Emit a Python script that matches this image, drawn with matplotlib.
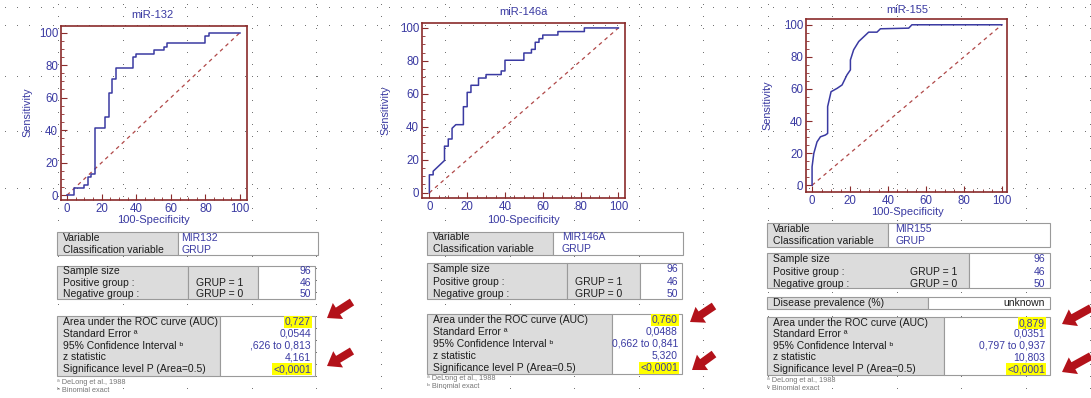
import numpy as np
import matplotlib
matplotlib.use('Agg')
import matplotlib.pyplot as plt
from matplotlib.patches import Rectangle, FancyArrow

plt.rcParams['font.family'] = ['Liberation Sans', 'DejaVu Sans']

W, H = 1091, 398

# ROC curves (100-Specificity, Sensitivity)
fpr_132 = [0, 4, 4, 10, 10, 12, 12, 14, 14, 16, 16, 22, 22, 24, 24, 26, 26, 28, 28, 38, 38, 40, 40, 50, 50,
           56, 56, 58, 58, 80, 80, 82, 82, 100]
tpr_132 = [0, 0, 4.35, 4.35, 6.52, 6.52, 10.87, 10.87, 13.04, 13.04, 41.3, 41.3, 47.8, 47.8, 63.0, 63.0,
           71.7, 71.7, 78.3, 78.3, 84.8, 84.8, 87.0, 87.0, 89.1, 89.1, 91.3, 91.3, 93.5, 93.5, 97.8, 97.8, 100, 100]

fpr_146 = [0, 0, 2, 2, 8, 8, 10, 10, 12, 12, 14, 18, 18, 20, 20, 22, 22, 26, 26, 30, 30, 38, 38, 40, 40, 50,
           50, 54, 54, 56, 56, 58, 58, 60, 60, 68, 68, 82, 82, 100]
tpr_146 = [0, 10.87, 10.87, 13.04, 19.57, 28.26, 28.26, 32.6, 32.6, 39.1, 41.3, 41.3, 52.2, 52.2, 60.9, 60.9,
           65.2, 65.2, 69.6, 69.6, 71.7, 71.7, 73.9, 73.9, 80.4, 80.4, 84.8, 84.8, 87.0, 87.0, 91.3, 91.3, 93.5,
           93.5, 95.7, 95.7, 97.8, 97.8, 100, 100]

fpr_155 = [0, 0, 0.9, 2.6, 4.4, 7.0, 8.2, 8.2, 10.0, 13.2, 15.8, 18.4, 20.2, 20.2, 21.9, 24.6, 29.8, 34.2,
           36.0, 50.9, 52.6, 100]
tpr_155 = [0, 11.5, 19.8, 27.0, 30.2, 31.3, 32.3, 49.0, 58.3, 60.4, 62.5, 68.8, 71.9, 78.1, 84.4, 89.6, 95.4,
           95.4, 97.5, 97.9, 100, 100]

titles = ['miR-132', 'miR-146a', 'miR-155']
variables = ['MIR132', 'MIR146A', 'MIR155']
sample_size = ['96', '96', '96']
positive_n = ['46', '46', '46']
negative_n = ['50', '50', '50']
auc = ['0,727', '0,760', '0,879']
std_err = ['0,0544', '0,0488', '0,0351']
conf_int = [',626 to 0,813', '0,662 to 0,841', '0,797 to 0,937']
z_stat = ['4,161', '5,320', '10,803']
p_level = ['<0,0001', '<0,0001', '<0,0001']

curves = [(fpr_132, tpr_132), (fpr_146, tpr_146), (fpr_155, tpr_155)]

BLUE = '#3a3aa2'
FRAME = '#8a2b2b'
TXT = '#1c1c1c'
GRAY = '#dcdcdc'
EDGE = '#9a9a9a'
FS = 7.5

fig = plt.figure(figsize=(W / 100, H / 100), dpi=100)
bg = fig.add_axes([0, 0, 1, 1])
bg.set_xlim(0, W)
bg.set_ylim(H, 0)
bg.axis('off')

# faint dotted spreadsheet grid in the background
for gx in np.arange(58, W, 64.5):
    gy = np.arange(4, H, 12)
    bg.plot(np.full(len(gy), gx), gy, ls='none', marker='s', ms=0.6, mew=0, color='#666666', zorder=0)
for gy in [7, 25, 76, 131, 188]:
    gx = np.arange(5, W, 12)
    bg.plot(gx, np.full(len(gx), gy), ls='none', marker='s', ms=0.6, mew=0, color='#666666', zorder=0)


def px_axes(l, t, r, b):
    return fig.add_axes([l / W, 1 - b / H, (r - l) / W, (b - t) / H])


def cell(x0, y0, x1, y1, gray=True):
    bg.add_patch(Rectangle((x0, y0), x1 - x0, y1 - y0, facecolor=GRAY if gray else 'white',
                           edgecolor=EDGE, lw=0.8, zorder=2))


def label(x, y, s, **kw):
    kw.setdefault('color', TXT)
    kw.setdefault('fontsize', FS)
    bg.text(x, y, s, va='center', zorder=3, **kw)


def value(x, y, s, hl=False, color=BLUE):
    kw = {}
    if hl:
        kw['bbox'] = dict(facecolor='#ffff00', edgecolor='none', pad=0.6)
    bg.text(x, y, s, ha='right', va='center', color=color, fontsize=FS, zorder=4, **kw)


frames = [(61, 26, 247, 200), (422, 23, 625, 198), (806, 19, 1007, 192)]
limits = [((-3.5, 104), (-3, 104)), ((-3.9, 103.5), (-3.2, 103)), ((-3.2, 102.7), (-4.2, 103.6))]
title_pos = [(152, 15), (523, 12), (907, 10)]
ylab_pos = [(27, 112), (385, 110), (767, 105)]
xlab_pos = [(153, 220), (523, 220), (907, 212)]

for i in range(3):
    ax = px_axes(*frames[i])
    ax.set_facecolor('none')
    fx, ty = curves[i]
    ax.plot([0, 100], [0, 100], ls=(0, (3, 3)), color='#b04848', lw=0.9)
    ax.plot(fx, ty, color=BLUE, lw=1.1)
    ax.set_xlim(*limits[i][0])
    ax.set_ylim(*limits[i][1])
    ax.set_xticks(range(0, 101, 20))
    ax.set_yticks(range(0, 101, 20))
    ax.set_xticks(range(0, 101, 5), minor=True)
    ax.set_yticks(range(0, 101, 5), minor=True)
    ax.tick_params(which='major', direction='in', length=4, color=FRAME, labelcolor=BLUE,
                   labelsize=8.3, pad=2)
    ax.tick_params(which='minor', direction='in', length=2, color=FRAME)
    for sp in ax.spines.values():
        sp.set_color(FRAME)
        sp.set_linewidth(1.2)
    bg.text(*title_pos[i], titles[i], ha='center', va='center', color=BLUE, fontsize=8)
    bg.text(*ylab_pos[i], 'Sensitivity', ha='center', va='center', rotation=90, color=BLUE, fontsize=7.8)
    bg.text(*xlab_pos[i], '100-Specificity', ha='center', va='center', color=BLUE, fontsize=8)

# ---- tables, panel 1 and 2 share the same structure
simple = [
    dict(x0=57, t1=(232, 255), s1=178, r1=318, r1y=(238, 250), vx=181,
         t2=(266, 299), c2=(188, 258, 315), r2y=(271, 283, 294), gx=196, rx=311,
         t3=(316, 376), c3=(220, 315), r3y=(322, 334, 346, 357, 369), fy=(382, 390)),
    dict(x0=427, t1=(232, 255), s1=553, r1=683, r1y=(237, 249), vx=562,
         t2=(263, 299), c2=(567, 640, 682), r2y=(269, 282, 294), gx=575, rx=678,
         t3=(314, 374), c3=(612, 682), r3y=(320, 332, 344, 356, 368), fy=(379, 387)),
]

stat_labels = ['Area under the ROC curve (AUC)', 'Standard Error \u00aa', '95% Confidence Interval \u1d47',
               'z statistic', 'Significance level P (Area=0.5)']

for i, g in enumerate(simple):
    x0 = g['x0']
    cell(x0, g['t1'][0], g['s1'], g['t1'][1])
    cell(g['s1'], g['t1'][0], g['r1'], g['t1'][1], gray=False)
    label(x0 + 6, g['r1y'][0], 'Variable')
    label(x0 + 6, g['r1y'][1], 'Classification variable')
    label(g['vx'], g['r1y'][0], variables[i], color=BLUE)
    label(g['vx'], g['r1y'][1], 'GRUP', color=BLUE)

    a, b, c = g['c2']
    cell(x0, g['t2'][0], a, g['t2'][1])
    cell(a, g['t2'][0], b, g['t2'][1])
    cell(b, g['t2'][0], c, g['t2'][1], gray=False)
    label(x0 + 6, g['r2y'][0], 'Sample size')
    label(x0 + 6, g['r2y'][1], 'Positive group :')
    label(x0 + 6, g['r2y'][2], 'Negative group :')
    label(g['gx'], g['r2y'][1], 'GRUP = 1')
    label(g['gx'], g['r2y'][2], 'GRUP = 0')
    value(g['rx'], g['r2y'][0], sample_size[i])
    value(g['rx'], g['r2y'][1], positive_n[i])
    value(g['rx'], g['r2y'][2], negative_n[i])

    a, c = g['c3']
    cell(x0, g['t3'][0], a, g['t3'][1])
    cell(a, g['t3'][0], c, g['t3'][1], gray=False)
    vals = [auc[i], std_err[i], conf_int[i], z_stat[i], p_level[i]]
    for k in range(5):
        label(x0 + 6, g['r3y'][k], stat_labels[k])
        value(g['rx'], g['r3y'][k], vals[k], hl=(k in (0, 4)))
    label(x0, g['fy'][0], '\u00aa DeLong et al., 1988', fontsize=5.3, color='#777777')
    label(x0, g['fy'][1], '\u1d47 Binomial exact', fontsize=5.3, color='#777777')

# ---- panel 3 table
x0 = 767
cell(x0, 223, 888, 247)
cell(888, 223, 1050, 247, gray=False)
label(773, 229, 'Variable')
label(773, 241, 'Classification variable')
label(895, 229, variables[2], color=BLUE)
label(895, 241, 'GRUP', color=BLUE)

cell(x0, 253, 969, 288)
cell(969, 253, 1050, 288, gray=False)
label(773, 259, 'Sample size')
label(773, 272, 'Positive group :')
label(773, 284, 'Negative group :')
label(910, 272, 'GRUP = 1')
label(910, 284, 'GRUP = 0')
value(1045, 259, sample_size[2])
value(1045, 272, positive_n[2])
value(1045, 284, negative_n[2])

cell(x0, 297, 928, 309)
cell(928, 297, 1050, 309, gray=False)
label(773, 303, 'Disease prevalence (%)')
value(1045, 303, 'unknown', color=TXT)

cell(x0, 317, 944, 375)
cell(944, 317, 1050, 375, gray=False)
vals = [auc[2], std_err[2], conf_int[2], z_stat[2], p_level[2]]
for k, yy in enumerate([323, 334, 346, 357, 369]):
    label(773, yy, stat_labels[k])
    value(1045, yy, vals[k], hl=(k in (0, 4)))
label(x0, 381, '\u00aa DeLong et al., 1988', fontsize=5.3, color='#777777')
label(x0, 389, '\u1d47 Binomial exact', fontsize=5.3, color='#777777')

# ---- red arrows
arrows = [((352, 302), (327, 318)), ((352, 351), (327, 366)),
          ((714, 306), (690, 322)), ((714, 354), (692, 370)),
          ((1091, 308), (1062, 324)), ((1091, 356), (1062, 372))]
for (tx, ty), (hx, hy) in arrows:
    bg.add_patch(FancyArrow(tx, ty, hx - tx, hy - ty, width=8, head_width=19, head_length=13,
                            length_includes_head=True, color='#b3121a', lw=0, zorder=5))

fig.savefig('out.png', dpi=100)
